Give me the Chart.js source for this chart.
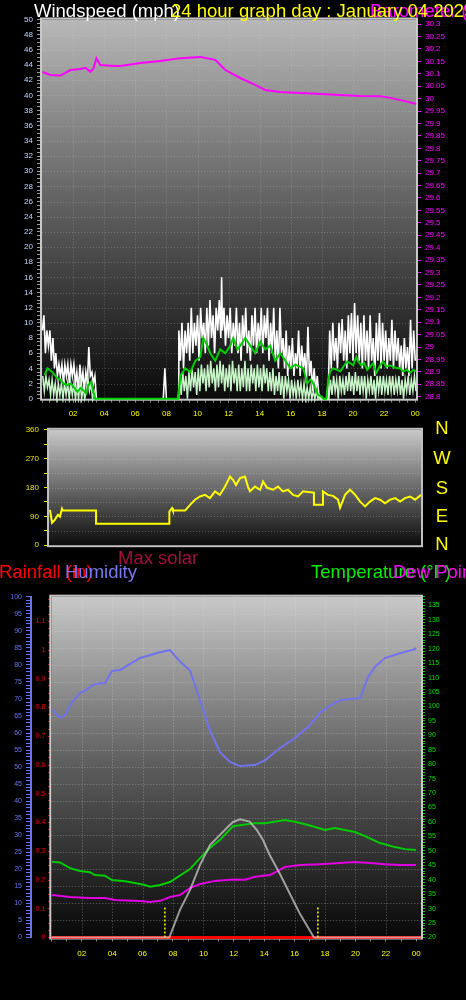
<!DOCTYPE html>
<html><head><meta charset="utf-8">
<script src="https://cdn.jsdelivr.net/npm/chart.js@4.4.1/dist/chart.umd.min.js"></script>
<style>
html,body{margin:0;padding:0;background:#000;overflow:hidden}
body{width:466px;height:1000px;position:relative;font-family:"Liberation Sans",Arial,sans-serif}
canvas{position:absolute;left:0}
.t{position:absolute;white-space:nowrap;font-size:18.5px;line-height:18.5px}
.d{position:absolute;left:432px;width:20px;text-align:center;font-size:18.5px;line-height:18.5px;color:#ffff00}
</style></head><body>
<canvas id="c1" width="466" height="425" style="top:0"></canvas>
<canvas id="c2" width="466" height="135" style="top:420px"></canvas>
<canvas id="c3" width="466" height="415" style="top:585px"></canvas>
<div class="t" style="left:34px;top:1.6px;color:#ffffff">Windspeed (mph)</div>
<div class="t" style="left:370px;top:1.6px;color:#ff00ff">Barometer (inHg)</div>
<div class="t" style="left:171px;top:1.6px;color:#ffff00">24 hour graph day : January 04 2025</div>
<div class="d" style="top:419.3px">N</div>
<div class="d" style="top:449.3px">W</div>
<div class="d" style="top:479.3px">S</div>
<div class="d" style="top:507px">E</div>
<div class="d" style="top:535px">N</div>
<div class="t" style="left:118px;top:549.3px;color:#a0103c">Max solar</div>
<div class="t" style="left:-1px;top:562.6px;color:#ff0000">Rainfall (in)</div>
<div class="t" style="left:65px;top:562.6px;color:#7878f0">Humidity</div>
<div class="t" style="left:311px;top:562.6px;color:#00ee00">Temperature (°F)</div>
<div class="t" style="left:393px;top:562.6px;color:#ff00ff">Dew Point (°F)</div>
<script>
// ---------- DATA (hours since midnight, values) ----------
// Top panel: wind (mph)
const gustT = [0.03,0.12,0.22,0.31,0.41,0.51,0.60,0.70,0.80,0.89,0.99,1.09,1.18,1.28,1.38,1.47,1.57,1.66,1.76,1.86,1.95,2.05,2.15,2.24,2.34,2.44,2.53,2.63,2.72,2.82,2.92,3.01,3.11,3.21,3.30,3.40,3.50,
  7.80,7.90,8.00,8.77,
  8.8,8.9,9.0,9.1,9.2,9.3,9.4,9.5,9.6,9.7,9.8,9.9,10.0,10.1,10.2,10.3,10.4,10.5,10.6,10.7,10.8,10.9,11.0,11.1,11.2,11.3,11.4,11.5,11.55,11.6,11.7,11.8,11.9,12.0,12.1,12.2,12.3,12.4,12.5,12.6,12.7,12.8,12.9,13.0,13.1,13.2,13.3,13.4,13.5,13.6,13.7,13.8,13.9,14.0,14.1,14.2,14.3,14.4,14.5,14.6,14.7,14.8,14.9,15.0,15.1,15.2,15.3,15.4,15.5,15.6,15.7,15.8,15.9,16.0,16.1,16.2,16.3,16.4,16.5,16.6,16.7,16.8,16.9,17.0,17.1,17.2,17.3,17.4,17.5,17.6,17.7,17.8,17.9,
  18.4,18.5,18.6,18.7,18.8,18.9,19.0,19.1,19.2,19.3,19.4,19.5,19.6,19.7,19.8,19.9,20.0,20.1,20.2,20.3,20.4,20.5,20.6,20.7,20.8,20.9,21.0,21.1,21.2,21.3,21.4,21.5,21.6,21.7,21.8,21.9,22.0,22.1,22.2,22.3,22.4,22.5,22.6,22.7,22.8,22.9,23.0,23.1,23.2,23.3,23.4,23.5,23.6,23.7,23.8,23.9,24.0];
const gustV = [9,11,6,9,7,9,5,8,4,6,3,4.5,3,4.5,2,4.5,3,4.5,2,4.5,3,4.5,2,3.5,1,4.5,2,3.5,1,3.5,2,6.8,3,3.5,2,3,0,
  0,4,0,0,
  9,5,10,4,9,6,10,5,12,6,10,7,11,5,12,8,10,6,12,7,13,8,11,6,12,9,13,8,16,9,12,7,11,8,12,6,10,7,12,6,10,5,11,7,12,6,9,5,11,7,12,6,10,7,12,6,11,8,12,5,10,6,12,5,9,4,12,6,8,4,9,3,7,4,8,3,6,4,9,3,7,4,6,2,9.5,3,5,1,4,1,3,0.5,0,
  0,9,4,10,5,8,4,10,6,10.5,5,9,4,11,6,11.3,5,12.6,6,11,5,10,4,11,5,9,4,11,5,8,3,10,5,11.3,4,10,5,9,4,8,5,10.4,4,9,5,8,4,7,3,8,4,6.8,3,10.4,4,9,5];
const speedT = [0.05,0.15,0.25,0.35,0.45,0.55,0.65,0.75,0.85,0.95,1.05,1.15,1.25,1.35,1.45,1.55,1.65,1.75,1.85,1.95,2.05,2.15,2.25,2.35,2.45,2.55,2.65,2.75,2.85,2.95,3.05,3.15,3.25,3.35,3.45,
  8.75,8.85,8.95,9.05,9.15,9.25,9.35,9.45,9.55,9.65,9.75,9.85,9.95,10.05,10.15,10.25,10.35,10.45,10.55,10.65,10.75,10.85,10.95,11.05,11.15,11.25,11.35,11.45,11.55,11.65,11.75,11.85,11.95,12.05,12.15,12.25,12.35,12.45,12.55,12.65,12.75,12.85,12.95,13.05,13.15,13.25,13.35,13.45,13.55,13.65,13.75,13.85,13.95,14.05,14.15,14.25,14.35,14.45,14.55,14.65,14.75,14.85,14.95,15.05,15.15,15.25,15.35,15.45,15.55,15.65,15.75,15.85,15.95,16.05,16.15,16.25,16.35,16.45,16.55,16.65,16.75,16.85,16.95,17.05,17.15,17.25,17.35,17.45,17.55,17.65,17.75,17.85,17.95,
  18.45,18.55,18.65,18.75,18.85,18.95,19.05,19.15,19.25,19.35,19.45,19.55,19.65,19.75,19.85,19.95,20.05,20.15,20.25,20.35,20.45,20.55,20.65,20.75,20.85,20.95,21.05,21.15,21.25,21.35,21.45,21.55,21.65,21.75,21.85,21.95,22.05,22.15,22.25,22.35,22.45,22.55,22.65,22.75,22.85,22.95,23.05,23.15,23.25,23.35,23.45,23.55,23.65,23.75,23.85,23.95,24.05];
const speedV = [3,1,3,1.5,2.5,0.5,2.5,0.5,2,0,2,0.5,2,0,2,0.5,2,0,2,0.5,2,0,1.5,0,2,0,1.5,0,1,2.7,1,2,0,1,0,
  0,3,0.5,3.5,1,3,0,3.5,1,4,1.5,3.5,0.5,4,1,4.5,2,4,1,4.5,1.5,5,2,4,1,4.5,1.5,5,2,4.5,1,4,1.5,4.5,1,5,2,4,1,4.5,1,4,1.5,5,1,4,1,4.5,2,4,1,4.5,1.5,4,1,4.5,2,4,1,3.5,1,4,0.5,3,1,3.5,0.5,3,0,3,1,2.5,0,2.5,0.5,2,0,2.5,0.5,2,0,2,0,1.5,0,1.5,0,1,0,1,0,0.5,0,
  0,2.5,0.5,3,1,2.5,0,3,1,2.5,0.5,3,1,3.5,1,3,0.5,3.5,1,3,0.5,3,1,3,0,2.5,1,3,0.5,2.5,0,3,1,3,0.5,3,1,2.5,0.5,3,1,3,0.5,2.5,1,3,0.5,2.5,0,2.5,1,3,0.5,2.5,1,3,1];
const avgT = [0.17,0.35,0.48,0.67,0.99,1.18,1.38,1.63,1.83,2.02,2.28,2.47,2.66,2.85,2.98,3.17,3.30,3.43,
  8.77,8.89,9.21,9.54,9.86,10.18,10.37,10.63,10.82,11.14,11.46,11.79,12.11,12.30,12.56,12.75,13.07,13.39,13.71,14.04,14.36,14.68,15.00,15.32,15.65,15.97,16.29,16.61,16.80,17.06,17.25,17.38,17.57,17.76,17.96,18.08,18.28,
  18.41,18.53,18.73,18.98,19.18,19.37,19.63,19.82,20.01,20.21,20.33,20.53,20.72,20.91,21.10,21.30,21.49,21.75,21.94,22.13,22.39,22.58,22.84,23.03,23.22,23.48,23.68,23.87,24.06];
const avgV = [3.1,4.0,3.8,3.5,2.7,2.5,2.0,1.8,2.0,1.6,0.9,1.4,1.1,0.7,1.8,2.2,0.9,0,
  0,3,4,3.5,5,5.5,8,7,6,5,6.5,6,7,8,6.5,7,8,7,6,7.5,6.5,7,5,6,5,4,4.5,4.2,4.0,2.0,2.5,2.3,1.4,0.5,0.3,0,0,
  2.5,3.6,4.0,3.8,3.6,4.2,4.9,4.7,4.4,5.5,4.9,4.4,4.7,3.8,4.2,4.7,3.4,4.4,4.9,4.2,4.4,4.2,4.0,4.0,3.6,3.8,3.4,3.8,3.6];
// Barometer (inHg)
const baroT = [0.03,0.54,1.18,1.83,2.47,2.79,3.11,3.30,3.50,3.75,4.72,5.04,6.32,7.61,8.89,10.18,11.14,11.79,12.75,13.71,14.36,15.32,16.61,17.90,19.18,20.47,21.75,22.39,23.35,24.06];
const baroV = [30.107,30.095,30.093,30.115,30.119,30.124,30.108,30.12,30.162,30.135,30.131,30.131,30.143,30.151,30.163,30.168,30.156,30.115,30.083,30.055,30.035,30.027,30.023,30.019,30.015,30.011,30.010,30.003,29.990,29.978];
// Wind direction (degrees)
const dirT = [0.54,0.67,0.86,1.05,1.18,1.31,1.36,3.50,3.50,8.21,8.21,8.38,8.44,9.22,9.54,9.86,10.18,10.50,10.82,11.14,11.46,11.79,12.11,12.30,12.49,12.75,13.07,13.26,13.39,13.71,14.04,14.23,14.49,14.87,15.19,15.51,15.83,16.16,16.48,16.80,17.12,17.50,17.50,18.08,18.08,18.40,18.73,19.05,19.18,19.50,19.82,20.15,20.47,20.79,21.10,21.43,21.75,22.07,22.39,22.72,23.04,23.35,23.68,24.00,24.38];
const dirV = [110,70,80,95,89,114,108,108,67,67,105,116,108,108,126,142,152,157,147,168,157,183,214,204,188,209,214,183,168,183,173,199,179,173,183,168,173,157,152,168,166,164,126,126,168,157,154,142,117,157,173,157,136,121,136,147,142,131,142,147,136,147,152,142,157];
// Bottom panel
const humT = [0.1,0.38,0.57,0.77,0.97,1.23,1.49,1.89,2.28,2.74,3.20,3.53,3.73,3.99,4.52,5.83,7.15,7.80,8.46,9.12,9.78,10.43,11.09,11.75,12.41,13.39,14.05,15.04,16.02,17.01,17.67,18.32,18.98,19.64,20.30,20.82,21.28,21.94,22.93,23.91,23.98];
const humV = [66.8,65.3,64.6,64.6,65.8,68.2,69.7,71.7,72.6,74.1,74.6,74.6,76.3,78.2,78.5,82,83.7,84.3,81,78.4,69.6,60.8,54.4,51.5,50.3,50.6,52,55.6,58.5,62.3,66,68,69.6,70,70.2,76.4,79.4,82,83.4,84.6,85];
const tempT = [0.05,0.57,1.23,1.89,2.54,2.87,3.53,3.99,4.85,5.50,6.16,6.49,7.15,7.80,8.33,9.12,9.78,10.43,11.09,11.95,13.39,14.05,15.36,16.02,17.01,17.99,18.65,19.97,20.63,21.61,22.60,23.25,23.98];
const tempV = [46.2,46,44,43,42.6,41.6,41.4,39.9,39.5,38.9,38.2,37.6,38.2,39.2,41,43.7,47.5,51,53.8,58.5,59.6,59.6,60.7,60.1,58.8,57.2,57.9,56.5,55.1,52.7,51.3,50.6,50.3];
const dewT = [0.05,1.23,2.54,3.53,4.19,5.83,6.49,7.15,7.80,8.46,9.12,9.78,10.76,11.95,12.74,13.39,14.38,15.36,16.35,17.66,18.98,19.97,20.95,21.94,22.93,23.98];
const dewV = [34.7,34,33.7,33.7,33,32.6,32.3,32.7,34,34.7,37.1,38.5,39.6,40.1,40,41,41.6,44.4,45.1,45.4,45.8,46.1,45.8,45.4,45.1,45.1];
const solarT = [0,7.76,8.46,9.12,9.78,10.43,11.09,11.55,11.95,12.41,13.04,13.52,13.92,14.36,15.02,15.67,16.33,17.27,24.31];
const solarV = [0,0,81,139,213,271,301,322,339,347,340,315,286,242,188,130,71,0,0];
const rainT = [0,24.31];
const rainV = [0,0];
const sunriseT = 7.47, sunsetT = 17.53;
// Tick label values
const hourLabels = ['02','04','06','08','10','12','14','16','18','20','22','00'];

// ---------- helpers ----------
const F = '"Liberation Sans", Arial, sans-serif';
Chart.defaults.font.family = F;
function range(a, b, s) { const r = []; const n = Math.round((b - a) / s); for (let i = 0; i <= n; i++) r.push(+(a + i * s).toFixed(4)); return r; }
function zip(ts, vs) { return ts.map((t, i) => ({ x: t, y: vs[i] })); }
function hourLabel(v) { if (Math.abs(v % 2) > 1e-6 || v < 1) return ''; return hourLabels[Math.round(v / 2) - 1] || ''; }
function axis(o) {
  return {
    type: 'linear', position: o.pos, min: o.min, max: o.max, weight: o.weight || 0, display: o.display === undefined ? true : o.display,
    afterBuildTicks: s => { s.ticks = o.ticks.map(v => ({ value: v })); },
    afterFit: s => { if (o.w != null) s.width = o.w; if (o.h != null) s.height = o.h; },
    ticks: { autoSkip: false, maxRotation: 0, minRotation: 0, color: o.color, font: { family: F, size: o.size || 8 }, padding: o.pad, callback: o.label },
    grid: { display: true, drawOnChartArea: false, drawTicks: true, tickLength: o.tl, tickColor: o.tickColor, tickWidth: 1 },
    border: { display: !!o.border, color: o.border || '#000', width: o.bw || 1 }
  };
}
const decor = {
  id: 'decor',
  beforeDraw(chart, args, o) {
    if (!o || !o.bg) return;
    const { ctx, chartArea: a } = chart;
    ctx.save();
    const g = ctx.createLinearGradient(0, a.top, 0, a.bottom);
    o.bg.forEach(s => g.addColorStop(s[0], s[1]));
    ctx.fillStyle = g;
    ctx.fillRect(a.left, a.top, a.right - a.left, a.bottom - a.top);
    ctx.strokeStyle = o.gridColor; ctx.lineWidth = 1; ctx.setLineDash([1, 2]);
    if (o.gridX) {
      const sx = chart.scales.x;
      o.gridX.forEach(v => { const p = Math.round(sx.getPixelForValue(v)) + 0.5; ctx.beginPath(); ctx.moveTo(p, a.top); ctx.lineTo(p, a.bottom); ctx.stroke(); });
    }
    if (o.gridY) {
      const sy = chart.scales[o.gridYScale];
      o.gridY.forEach(v => { const p = Math.round(sy.getPixelForValue(v)) + 0.5; ctx.beginPath(); ctx.moveTo(a.left, p); ctx.lineTo(a.right, p); ctx.stroke(); });
    }
    ctx.restore();
  },
  beforeDatasetsDraw(chart, args, o) {
    if (!o || !o.frame) return;
    const { ctx, chartArea: a } = chart;
    ctx.save();
    ctx.strokeStyle = o.frame; ctx.lineWidth = 2;
    ctx.strokeRect(a.left - 1, a.top - 1, a.right - a.left + 2, a.bottom - a.top + 2);
    ctx.restore();
  }
};
Chart.register(decor);
const base = (extra) => Object.assign({
  responsive: false, animation: false, events: [],
  elements: { point: { radius: 0 }, line: { tension: 0 } },
}, extra);

// ---------- Chart 1: wind + barometer ----------
new Chart(document.getElementById('c1'), {
  type: 'line',
  data: { datasets: [
    { label: 'Average', data: zip(avgT, avgV), borderColor: '#00cc00', borderWidth: 2, yAxisID: 'y', clip: 4 },
    { label: 'Speed', data: zip(speedT, speedV), borderColor: '#c8f5c8', borderWidth: 1.5, yAxisID: 'y', clip: 4 },
    { label: 'Gust', data: zip(gustT, gustV), borderColor: '#ffffff', borderWidth: 1.6, yAxisID: 'y', clip: 4 },
    { label: 'Barometer', data: zip(baroT, baroV), borderColor: '#ff00ff', borderWidth: 2, yAxisID: 'y2', clip: 4 }
  ] },
  options: base({
    layout: { padding: { top: 19.5, left: 0, right: 0, bottom: 0 } },
    plugins: { legend: { display: false }, tooltip: { enabled: false },
      decor: { bg: [[0, '#b8b8b8'], [0.5, '#5e5e5e'], [1, '#0a0a0a']], gridColor: 'rgba(230,230,230,0.22)', gridX: range(2, 22, 2), gridY: range(2, 48, 2), gridYScale: 'y', frame: '#c8c8c8' } },
    scales: {
      x: axis({ pos: 'bottom', min: 0, max: 24.05, ticks: range(0, 24, 0.5), label: hourLabel, color: '#ffff00', size: 8, pad: 6, tl: 4, tickColor: '#808080', h: 425 - 398.7 }),
      y: axis({ pos: 'left', min: 0, max: 50, ticks: range(0, 50, 0.5), label: v => (Math.abs(v % 2) < 1e-6 ? String(v) : ''), color: '#c0d8ff', size: 8, pad: 4, tl: 5, tickColor: '#9a9a9a', w: 42 }),
      y2: axis({ pos: 'right', min: 28.792, max: 30.3185, ticks: range(28.8, 30.3, 0.05), label: v => String(+v.toFixed(2)), color: '#ff00ff', size: 8, pad: 4, tl: 5, tickColor: '#ff00ff', w: 50, border: '#ff00ff' })
    }
  })
});

// ---------- Chart 2: wind direction ----------
new Chart(document.getElementById('c2'), {
  type: 'line',
  data: { datasets: [ { label: 'Direction', data: zip(dirT, dirV), borderColor: '#ffff00', borderWidth: 2, clip: 4 } ] },
  options: base({
    layout: { padding: { top: 9.7, left: 0, right: 45, bottom: 9.3 } },
    plugins: { legend: { display: false }, tooltip: { enabled: false },
      decor: { bg: [[0, '#c8c8c8'], [0.5, '#6a6a6a'], [1, '#0c0c0c']], gridColor: 'rgba(230,230,230,0.25)', gridY: range(45, 315, 45), gridYScale: 'y', frame: '#c0c0c0' } },
    scales: {
      x: { type: 'linear', display: false, min: 0.476, max: 24.38 },
      y: axis({ pos: 'left', min: 0, max: 360, ticks: range(0, 360, 45), label: v => (v % 90 === 0 ? String(v) : ''), color: '#e6e600', size: 8, pad: 5, tl: 5, tickColor: '#e6e600', w: 49 })
    }
  })
});

// ---------- Chart 3: rain / humidity / temperature ----------
new Chart(document.getElementById('c3'), {
  type: 'line',
  data: { datasets: [
    { label: 'Max solar', data: zip(solarT, solarV), borderColor: 'rgba(205,205,205,0.72)', borderWidth: 2, yAxisID: 'sol', clip: 4 },
    { label: 'Sunrise', data: [{ x: sunriseT, y: 0 }, { x: sunriseT, y: 0.108 }], borderColor: '#ffff00', borderWidth: 1.5, borderDash: [2, 2], yAxisID: 'rain' },
    { label: 'Sunset', data: [{ x: sunsetT, y: 0 }, { x: sunsetT, y: 0.108 }], borderColor: '#ffff00', borderWidth: 1.5, borderDash: [2, 2], yAxisID: 'rain' },
    { label: 'Temperature', data: zip(tempT, tempV), borderColor: '#00cc00', borderWidth: 2, yAxisID: 'temp' },
    { label: 'Dew Point', data: zip(dewT, dewV), borderColor: '#e000e0', borderWidth: 2, yAxisID: 'temp' },
    { label: 'Humidity', data: zip(humT, humV), borderColor: '#7272ee', borderWidth: 2, yAxisID: 'hum' },
    { label: 'Rainfall', data: zip(rainT, rainV), borderColor: '#ff0000', borderWidth: 3, yAxisID: 'rain', clip: 4 }
  ] },
  options: base({
    layout: { padding: { top: 11.7, left: 0, right: 0, bottom: 0 } },
    plugins: { legend: { display: false }, tooltip: { enabled: false },
      decor: { bg: [[0, '#c8c8c8'], [0.5, '#5c5c5c'], [1, '#080808']], gridColor: 'rgba(230,230,230,0.35)', gridX: range(2, 22, 2), gridY: range(5, 95, 5), gridYScale: 'hum', frame: '#c8c8c8' } },
    scales: {
      x: axis({ pos: 'bottom', min: 0, max: 24.31, ticks: range(0, 24, 1), label: hourLabel, color: '#ffff00', size: 8, pad: 7, tl: 4, tickColor: '#808080', h: 415 - 352.5 }),
      hum: axis({ pos: 'left', weight: 1, min: 0, max: 100, ticks: range(0, 100, 1), label: v => (v % 5 === 0 ? String(v) : ''), color: '#6677ee', size: 7, pad: 4, tl: 5, tickColor: '#6677ee', w: 31, border: '#6677ee', bw: 2 }),
      rain: axis({ pos: 'left', weight: 0, min: 0, max: 1.1855, ticks: range(0, 1.175, 0.025), label: v => (Math.abs(Math.round(v * 10) - v * 10) < 1e-6 ? String(+v.toFixed(1)) : ''), color: '#dd0000', size: 7, pad: 3, tl: 3, tickColor: '#ee2222', w: 20.3 }),
      temp: axis({ pos: 'right', min: 20, max: 138, ticks: range(20, 138, 1), label: v => (v % 5 === 0 ? String(v) : ''), color: '#00dd00', size: 7, pad: 3, tl: 4, tickColor: '#00cc00', w: 45, border: '#00cc00' }),
      sol: { type: 'linear', display: false, min: 0, max: 1000 }
    }
  })
});
</script>
</body></html>
